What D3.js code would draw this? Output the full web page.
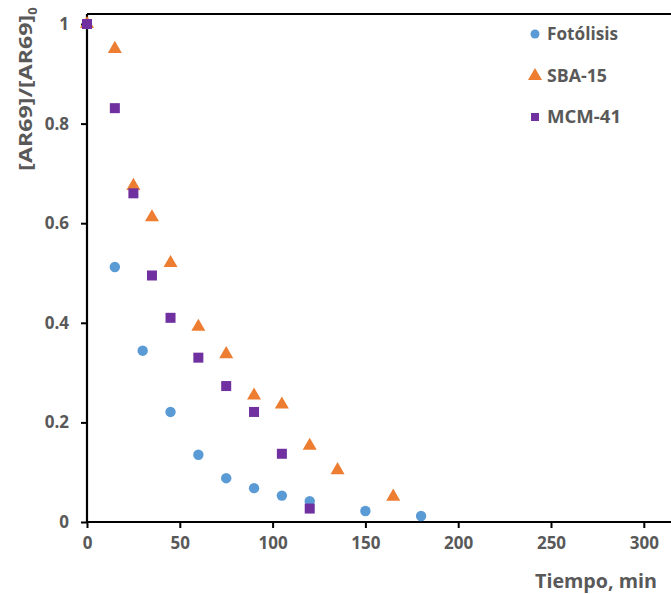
<!DOCTYPE html>
<html><head><meta charset="utf-8">
<script src="https://cdn.jsdelivr.net/npm/d3@7"></script>
<style>body{margin:0;background:#fff}svg{display:block;font-family:"Open Sans","Noto Sans",sans-serif}</style>
</head><body><svg id="c" width="671" height="594"></svg>
<script>
const fotTime = [0, 15, 30, 45, 60, 75, 90, 105, 120, 150, 180];
const fotVal  = [1.0, 0.512, 0.344, 0.221, 0.135, 0.088, 0.068, 0.053, 0.042, 0.022, 0.012];
const sbaTime = [0, 15, 25, 35, 45, 60, 75, 90, 105, 120, 135, 165];
const sbaVal  = [1.0, 0.95, 0.675, 0.612, 0.52, 0.392, 0.337, 0.254, 0.236, 0.153, 0.104, 0.051];
const mcmTime = [0, 15, 25, 35, 45, 60, 75, 90, 105, 120];
const mcmVal  = [1.0, 0.831, 0.66, 0.495, 0.41, 0.33, 0.273, 0.221, 0.137, 0.027];
const xTicks = [0, 50, 100, 150, 200, 250, 300];
const yTicks = [0, 0.2, 0.4, 0.6, 0.8, 1];
const seriesNames = ["Fotólisis", "SBA-15", "MCM-41"];

const svg = d3.select("#c");
const x = d3.scaleLinear().domain([0, 350]).range([87, 87 + 350 * 1.856]);
const y = d3.scaleLinear().domain([0, 1.02]).range([522, 522 - 1.02 * 498]);
const grey = "#595959";

// frame top
svg.append("line").attr("x1", x(0)).attr("x2", 671).attr("y1", y(1.02)).attr("y2", y(1.02))
  .attr("stroke", "#000").attr("stroke-width", 2);

const xAxis = svg.append("g").attr("transform", `translate(0,${y(0)})`)
  .call(d3.axisBottom(x).tickValues(xTicks).tickSize(6).tickPadding(9).tickFormat(d3.format("d")));
const yAxis = svg.append("g").attr("transform", `translate(${x(0)},0)`)
  .call(d3.axisLeft(y).tickValues(yTicks).tickSize(6).tickPadding(12).tickFormat(d => d === 0 ? "0" : d === 1 ? "1" : d3.format(".1f")(d)));
[xAxis, yAxis].forEach(a => {
  a.select(".domain").attr("stroke", "#000").attr("stroke-width", 2.2);
  a.selectAll(".tick line").attr("stroke", "#000").attr("stroke-width", 2);
  a.selectAll("text").attr("fill", grey).attr("font-size", 17).attr("font-weight", "bold")
    .attr("font-family", "'Open Sans', sans-serif");
});
xAxis.select(".domain").attr("d", `M${x(0)},0H671`);
yAxis.select(".domain").attr("d", `M0,${y(0)}V${y(1.02)}`);

// y axis title
svg.append("text").attr("transform", `translate(32,89) rotate(-90)`)
  .attr("text-anchor", "middle").attr("fill", grey).attr("font-size", 18).attr("font-weight", "bold")
  .html('<tspan textLength="156" lengthAdjust="spacingAndGlyphs">[AR69]/[AR69]</tspan><tspan dy="5" font-size="13">0</tspan>');
// x axis title
svg.append("text").attr("x", 535).attr("y", 588)
  .attr("fill", grey).attr("font-size", 19).attr("font-weight", "bold")
  .attr("textLength", 122).attr("lengthAdjust", "spacingAndGlyphs").text("Tiempo, min");

const cBlue = "#5B9BD5", cOrange = "#ED7D31", cPurple = "#7030A0";
const tri = d3.symbol().type(d3.symbolTriangle).size(85);

// Fotólisis circles
svg.append("g").selectAll("circle").data(fotTime.map((t, i) => [t, fotVal[i]])).join("circle")
  .attr("cx", d => x(d[0])).attr("cy", d => y(d[1])).attr("r", 5.2).attr("fill", cBlue);
// SBA-15 triangles
svg.append("g").selectAll("path").data(sbaTime.map((t, i) => [t, sbaVal[i]])).join("path")
  .attr("d", tri).attr("transform", d => `translate(${x(d[0])},${y(d[1])})`).attr("fill", cOrange);
// MCM-41 squares
svg.append("g").selectAll("rect").data(mcmTime.map((t, i) => [t, mcmVal[i]])).join("rect")
  .attr("x", d => x(d[0]) - 5).attr("y", d => y(d[1]) - 5).attr("width", 10).attr("height", 10).attr("fill", cPurple);

// legend
const lg = svg.append("g");
const ly = [34, 76, 117];
const lw = [71, 60, 74];
lg.append("circle").attr("cx", 535).attr("cy", ly[0]).attr("r", 4.5).attr("fill", cBlue);
lg.append("path").attr("d", tri).attr("transform", `translate(535,${ly[1]})`).attr("fill", cOrange);
lg.append("rect").attr("x", 531).attr("y", ly[2] - 4).attr("width", 8).attr("height", 8).attr("fill", cPurple);
seriesNames.forEach((n, i) => {
  lg.append("text").attr("x", 547).attr("y", ly[i] + 6).attr("fill", grey)
    .attr("font-size", 17).attr("font-weight", "bold")
    .attr("textLength", lw[i]).attr("lengthAdjust", "spacingAndGlyphs").text(n);
});
</script></body></html>
